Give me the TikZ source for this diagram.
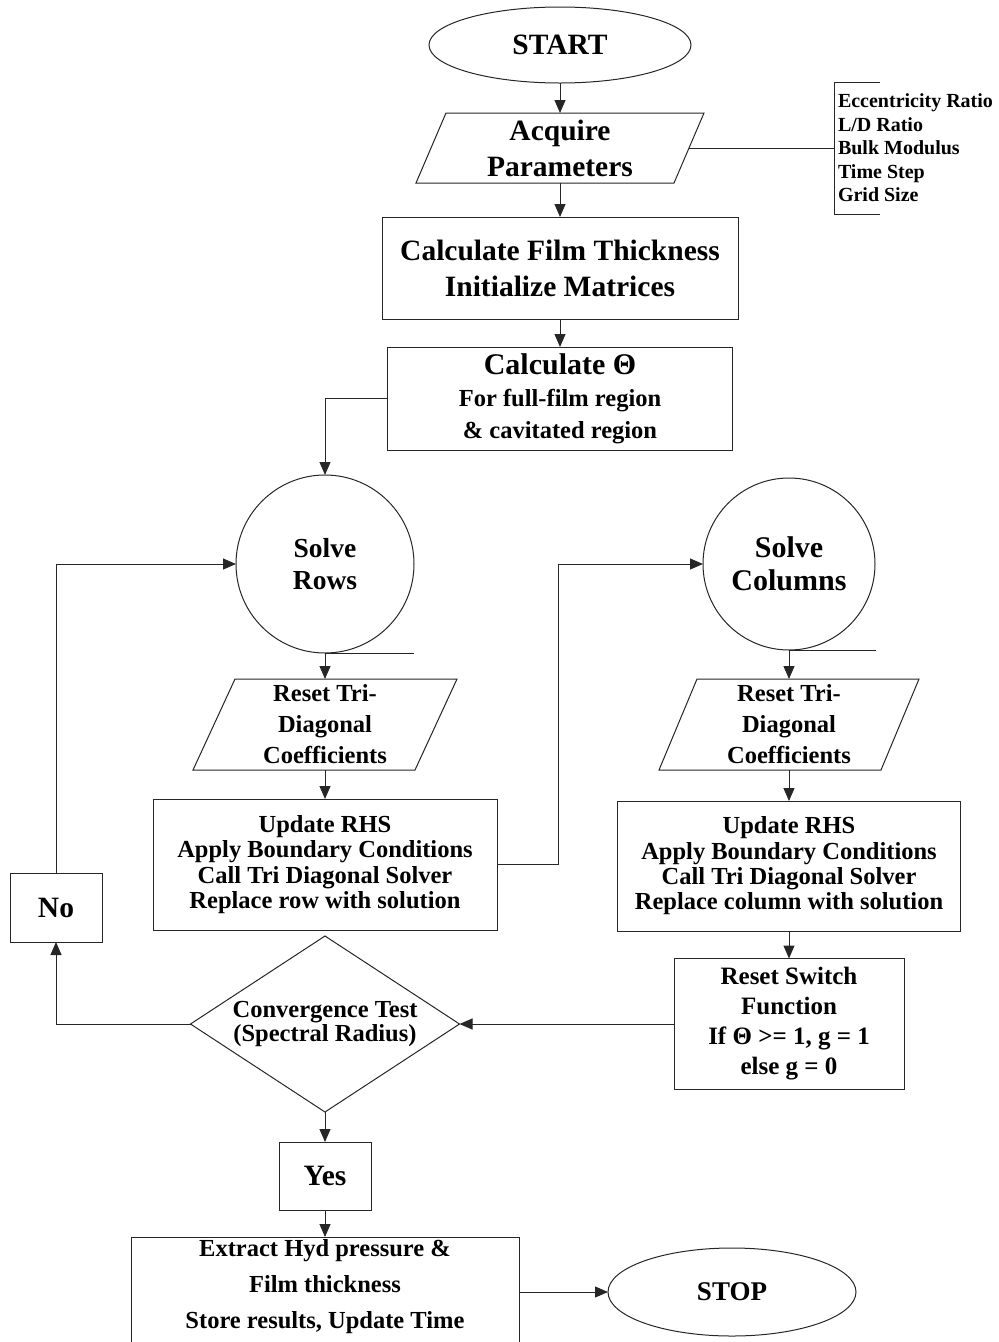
\documentclass[tikz,border=0pt]{standalone}
\usepackage{fontspec}
\setmainfont{Liberation Serif}
\usetikzlibrary{shapes.geometric,arrows.meta,calc}
\newcommand\drawpara[2]{\draw[shp] ($(#1.north west)+(#2,0)$) -- ($(#1.north east)+(#2,0)$) -- ($(#1.south east)-(#2,0)$) -- ($(#1.south west)-(#2,0)$) -- cycle;}
\begin{document}
\begin{tikzpicture}[x=1pt,y=-1pt,line width=1pt,
  every node/.style={inner sep=0pt,outer sep=0pt,align=center},
  shp/.style={draw=black!85,line width=1pt},
  box/.style={shp,rectangle},
  ln/.style={draw=black!85,line width=1pt},
  arr/.style={ln,-{Triangle[length=13pt,width=11pt]}},
  bigf/.style={font=\fontsize{29.5}{36}\selectfont\bfseries},
  medf/.style={font=\fontsize{24.5}{31}\selectfont\bfseries}
]
\useasboundingbox (0,0) rectangle (999,1342);

% top chain
\node[shp,ellipse,minimum width=262,minimum height=76,bigf] (start) at (560,45) {START};
\node[minimum width=258,minimum height=70,bigf] (acq) at (560,148) {Acquire\\Parameters};
\drawpara{acq}{15}
\node[anchor=west,align=left,font=\fontsize{20}{23.5}\selectfont\bfseries] (params) at (838,148)
  {Eccentricity Ratio\\L/D Ratio\\Bulk Modulus\\Time Step\\Grid Size};
\coordinate (brT) at (834,82);
\coordinate (brB) at (834,214);
\draw[ln] ($(brT)+(46,0)$) -- (brT) -- (brB) -- ($(brB)+(46,0)$);
\draw[ln] (acq.east) -- (acq.east -| brT);

\node[box,minimum width=356,minimum height=102,bigf] (film) at (560,268)
  {Calculate Film Thickness\\Initialize Matrices};
\node[box,minimum width=345,minimum height=103,font=\fontsize{30}{32}\selectfont\bfseries] (calcT) at (560,398.5)
  {Calculate Θ\\{\fontsize{24.5}{31}\selectfont For full-film region}\\{\fontsize{24.5}{31}\selectfont \& cavitated region}};

% left column
\node[shp,circle,minimum size=178,font=\fontsize{27.5}{32}\selectfont\bfseries] (solveR) at (325,564) {Solve\\Rows};
\node[minimum width=222,minimum height=91,medf] (resetR) at (325,724.5) {Reset Tri-\\Diagonal\\Coefficients};
\drawpara{resetR}{21}
\node[box,minimum width=344,minimum height=131,font=\fontsize{24.5}{25.3}\selectfont\bfseries] (updR) at (325,864.5)
  {Update RHS\\Apply Boundary Conditions\\Call Tri Diagonal Solver\\Replace row with solution};

% right column
\node[shp,circle,minimum size=172,font=\fontsize{30}{33}\selectfont\bfseries] (solveC) at (789,564) {Solve\\Columns};
\node[minimum width=222,minimum height=91,medf] (resetC) at (789,724.5) {Reset Tri-\\Diagonal\\Coefficients};
\drawpara{resetC}{19}
\node[box,minimum width=343,minimum height=130,font=\fontsize{24.5}{25.3}\selectfont\bfseries] (updC) at (789,866)
  {Update RHS\\Apply Boundary Conditions\\Call Tri Diagonal Solver\\Replace column with solution};
\node[box,minimum width=230,minimum height=131,font=\fontsize{25}{30}\selectfont\bfseries] (switch) at (789,1024)
  {Reset Switch\\Function\\If Θ >= 1, g = 1\\else g = 0};

% decision and ends
\node[shp,diamond,aspect=1.53,minimum width=269,minimum height=176,font=\fontsize{24.5}{24}\selectfont\bfseries] (conv) at (325,1024)
  {Convergence Test\\(Spectral Radius)};
\node[box,minimum width=92,minimum height=69,bigf] (no) at (56,907.5) {No};
\node[box,minimum width=92,minimum height=68,bigf] (yes) at (325,1176) {Yes};
\node[box,minimum width=388,minimum height=110] (ext) at (325,1292) {};
\node[font=\fontsize{24.5}{36}\selectfont\bfseries] (extT) at (325,1287)
  {Extract Hyd pressure \&\\Film thickness\\Store results, Update Time};
\node[shp,ellipse,minimum width=248,minimum height=88,font=\fontsize{27}{30}\selectfont\bfseries] (stop) at (732,1292) {STOP};

% connectors
\draw[arr] (start) -- (acq);
\draw[arr] (acq) -- (film);
\draw[arr] (film) -- (calcT);
\draw[arr] (calcT.west) -| (solveR.north);
\draw[arr] (solveR) -- (resetR);
\draw[ln] (solveR.south) -- ++(89,0);
\draw[arr] (resetR) -- (updR);
\draw[arr] (updR.east) -- ++(61,0) |- (solveC.west);
\draw[arr] (solveC) -- (resetC);
\draw[ln] (solveC.south) -- ++(87,0);
\draw[arr] (resetC) -- (updC);
\draw[arr] (updC) -- (switch);
\draw[arr] (switch.west) -- (conv.east);
\draw[arr] (conv.west) -| (no.south);
\draw[arr] (no.north) |- (solveR.west);
\draw[arr] (conv) -- (yes);
\draw[arr] (yes) -- (ext);
\draw[arr] (ext.east) -- (stop.west);
\end{tikzpicture}
\end{document}
